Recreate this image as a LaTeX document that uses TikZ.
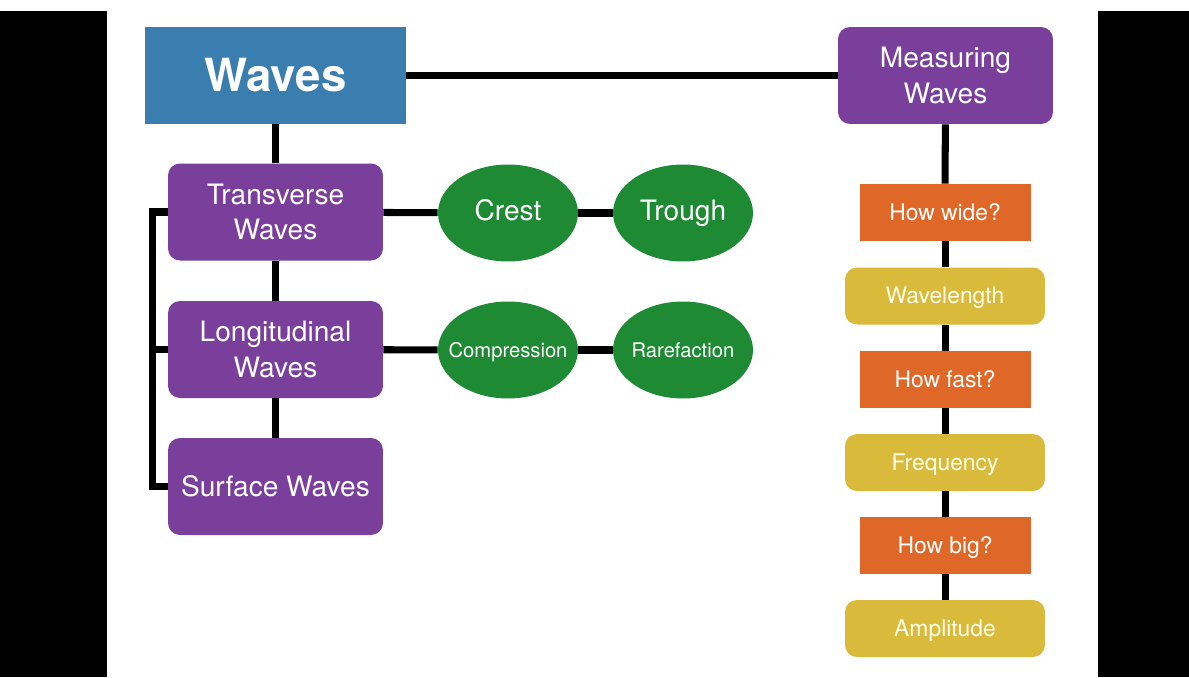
\documentclass[tikz,border=0pt]{standalone}
\usepackage{fontspec}
\setmainfont{TeX Gyre Heros}
\usetikzlibrary{shapes.geometric}

\definecolor{wavesblue}{HTML}{3A7DAF}
\definecolor{topicpurple}{HTML}{7A3F9B}
\definecolor{partgreen}{HTML}{1E8A33}
\definecolor{askorange}{HTML}{DF6828}
\definecolor{answeryellow}{HTML}{D9BA3B}

\newcommand*{\colx}{945}
\newcommand*{\bigtext}{\fontsize{16}{20}\selectfont}
\newcommand*{\smalltext}{\fontsize{13}{16}\selectfont}

\begin{document}
\begin{tikzpicture}
[
	x=0.02cm, y=-0.02cm,
	link/.style={line width=4pt},
	titlebox/.style={rectangle,fill=wavesblue,text=white,font=\fontsize{26}{30}\selectfont\bfseries,minimum width=5.22cm,minimum height=1.94cm,inner sep=0pt},
	topicbox/.style={rectangle,rounded corners=0.24cm,fill=topicpurple,text=white,font=\bigtext,align=center,minimum width=4.3cm,minimum height=1.94cm,inner sep=0pt},
	partoval/.style={ellipse,fill=partgreen,text=white,font=\bigtext,text height=1.1em,text depth=0.2em,minimum width=2.8cm,minimum height=1.94cm,inner sep=0pt},
	smalloval/.style={partoval,font=\fontsize{11.5}{14}\selectfont,inner xsep=-0.25cm},
	askbox/.style={rectangle,fill=askorange,text=white,font=\smalltext,text height=1.1em,text depth=0.2em,minimum width=3.42cm,minimum height=1.14cm,inner sep=0pt},
	answerbox/.style={rectangle,rounded corners=0.24cm,fill=answeryellow,text=white!92!yellow,font=\smalltext,text height=1.1em,text depth=0.2em,minimum width=4cm,minimum height=1.14cm,inner sep=0pt}
]

	% frame
	\useasboundingbox (0,0) rectangle (1189,677);
	\fill[black] (0,11) rectangle (107,677);
	\fill[black] (1098,11) rectangle (1189,677);

	% left side
	\node[titlebox] at (275.5,75.5) (waves) {Waves};
	\node[topicbox] at (275.5,212) (trans) {Transverse\\Waves};
	\node[topicbox] at (275.5,349.5) (long) {Longitudinal\\Waves};
	\node[topicbox] at (275.5,486.5) (surf) {Surface Waves};

	\node[partoval] at (508,213) (crest) {Crest};
	\node[partoval] at (683,213) (trough) {Trough};
	\node[smalloval] at (508,350) (comp) {Compression};
	\node[smalloval] at (683,350) (rare) {Rarefaction};

	% right side
	\node[topicbox] at (945.5,75.5) (measure) {Measuring\\Waves};
	\node[askbox] at (\colx,212.5) (wide) {How wide?};
	\node[answerbox] at (\colx,296) (wavelen) {Wavelength};
	\node[askbox] at (\colx,379.5) (fast) {How fast?};
	\node[answerbox] at (\colx,462.5) (freq) {Frequency};
	\node[askbox] at (\colx,545.5) (big) {How big?};
	\node[answerbox] at (\colx,628.5) (ampl) {Amplitude};

	% connectors
	\draw[link] (waves) -- (measure);
	\draw[link] (waves) -- (trans);
	\draw[link] (trans) -- (long);
	\draw[link] (long) -- (surf);
	\draw[link] (trans.west) -- ++(-15,0) |- (surf.west);
	\draw[link] (long.west) -- ++(-15,0);
	\draw[link] (trans) -- (crest);
	\draw[link] (crest) -- (trough);
	\draw[link] (long) -- (comp);
	\draw[link] (comp) -- (rare);

	\draw[link] (measure) -- (wide);
	\draw[link] (wide) -- (wavelen);
	\draw[link] (wavelen) -- (fast);
	\draw[link] (fast) -- (freq);
	\draw[link] (freq) -- (big);
	\draw[link] (big) -- (ampl);

\end{tikzpicture}
\end{document}
